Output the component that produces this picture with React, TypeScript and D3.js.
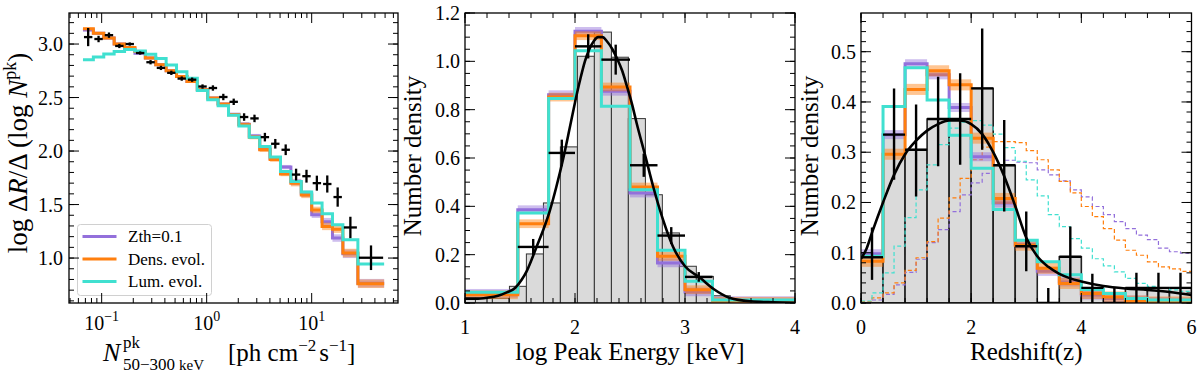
import React from 'react';
import * as d3 from 'd3';

const PURPLE = '#9370db';
const ORANGE = '#ff7f0e';
const CYAN = '#40e0d0';
const GRAY = '#dadada';
const FONT = "'Liberation Serif', 'DejaVu Serif', serif";

// ---------- panel 1 : peak flux distribution (log10 of bin edges) ----------
const fluxEdgesLog = [-1.178, -1.079, -0.98, -0.881, -0.782, -0.683, -0.584, -0.485, -0.386, -0.287, -0.188, -0.089, 0.01, 0.109,
  0.208, 0.307, 0.406, 0.505, 0.604, 0.703, 0.802, 0.901, 1.0, 1.099, 1.198, 1.297, 1.44, 1.69];
const fluxObs = [3.065, 3.047, 3.083, 2.982, 3.0, 2.916, 2.83, 2.777, 2.731, 2.677, 2.667, 2.603, 2.589, 2.505, 2.46, 2.318, 2.305,
  2.13, 2.068, 2.012, 1.78, 1.765, 1.7, 1.692, 1.57, 1.286, 1.003];
const fluxObsErr = [0.085, 0.03, 0.025, 0.02, 0.015, 0.015, 0.02, 0.02, 0.02, 0.02, 0.02, 0.02, 0.025, 0.03, 0.03, 0.035, 0.035,
  0.04, 0.045, 0.05, 0.055, 0.06, 0.07, 0.08, 0.09, 0.1, 0.115];
const fluxZth = [3.13, 3.1, 3.056, 3.0, 2.955, 2.915, 2.87, 2.807, 2.75, 2.697, 2.65, 2.573, 2.495, 2.44, 2.345, 2.25, 2.14, 2.02,
  1.93, 1.85, 1.71, 1.6, 1.405, 1.34, 1.187, 1.04, 0.765];
const fluxDens = [3.143, 3.1, 3.056, 3.0, 2.968, 2.93, 2.87, 2.807, 2.75, 2.697, 2.65, 2.573, 2.495, 2.44, 2.34, 2.246, 2.13, 2.012,
  1.92, 1.785, 1.7, 1.59, 1.45, 1.296, 1.27, 1.047, 0.76];
const fluxLum = [2.853, 2.878, 2.906, 2.93, 2.95, 2.935, 2.905, 2.865, 2.805, 2.74, 2.68, 2.565, 2.48, 2.423, 2.335, 2.235, 2.13,
  2.043, 1.944, 1.81, 1.716, 1.617, 1.514, 1.414, 1.311, 1.17, 0.944];
const fluxBand = [0.01, 0.01, 0.01, 0.01, 0.01, 0.01, 0.01, 0.01, 0.01, 0.01, 0.01, 0.01, 0.01, 0.01, 0.01, 0.02, 0.02, 0.02, 0.02,
  0.02, 0.03, 0.03, 0.03, 0.035, 0.035, 0.04, 0.04];
const fluxYTicks = [1.0, 1.5, 2.0, 2.5, 3.0];
const fluxXTicks = [0.1, 1, 10];
const fluxXTickExp = ['\u22121', '0', '1'];

// ---------- panel 2 : peak energy ----------
const epHistEdges = [0.94, 1.095, 1.249, 1.404, 1.558, 1.713, 1.867, 2.022, 2.176, 2.331, 2.485, 2.64, 2.794, 2.949, 3.103, 3.258, 3.412];
const epHist = [0.02, 0.02, 0.02, 0.069, 0.203, 0.414, 0.646, 1.021, 1.121, 1.017, 0.763, 0.448, 0.29, 0.152, 0.11, 0.03];
const epEdges = [1.0, 1.48, 1.76, 2.0, 2.24, 2.5, 2.75, 3.0, 3.25, 4.0];
const epZth = [0.04, 0.386, 0.862, 1.124, 0.876, 0.455, 0.166, 0.046, 0.01];
const epDens = [0.034, 0.328, 0.852, 1.106, 0.894, 0.48, 0.193, 0.055, 0.007];
const epLum = [0.044, 0.372, 0.846, 1.044, 0.814, 0.469, 0.218, 0.09, 0.012];
const epObs = [null, 0.232, 0.621, 1.062, 1.007, 0.57, 0.279, 0.108, null];
const epObsErr = [0, 0.033, 0.055, 0.05, 0.062, 0.048, 0.035, 0.02, 0];
const epCurveX = [1.0, 1.1, 1.2, 1.3, 1.38, 1.455, 1.515, 1.56, 1.606, 1.652, 1.712, 1.77, 1.83, 1.894, 1.95, 2.0, 2.05, 2.09,
  2.13, 2.17, 2.21, 2.25, 2.29, 2.34, 2.38, 2.43, 2.47, 2.52, 2.56, 2.64, 2.71, 2.8, 2.89, 3.0, 3.14, 3.26, 3.41, 3.6, 3.8, 4.0];
const epCurveY = [0.018, 0.018, 0.022, 0.03, 0.044, 0.062, 0.096, 0.131, 0.18, 0.234, 0.303, 0.38, 0.48, 0.6, 0.72, 0.83, 0.93,
  1.0, 1.05, 1.083, 1.1, 1.1, 1.083, 1.05, 1.014, 0.96, 0.9, 0.82, 0.745, 0.607, 0.483, 0.345, 0.234, 0.152, 0.103, 0.058, 0.021,
  0.007, 0.003, 0.001];
const epYTicks = [0, 0.2, 0.4, 0.6, 0.8, 1.0, 1.2];
const epXTicks = [1, 2, 3, 4];

// ---------- panel 3 : redshift ----------
const zEdges = [0, 0.4, 0.8, 1.2, 1.6, 2.0, 2.4, 2.8, 3.2, 3.6, 4.0, 4.4, 4.8, 5.2, 5.6, 6.0];
const zObs = [0.091, 0.335, 0.305, 0.366, 0.366, 0.427, 0.274, 0.113, 0, 0.092, 0.03, 0, 0.03, 0.03, 0.03];
const zObsLo = [0.046, 0.245, 0.212, 0.272, 0.275, 0.305, 0.182, 0.063, 0, 0.04, 0, 0, 0, 0, 0];
const zObsHi = [0.15, 0.427, 0.395, 0.45, 0.457, 0.546, 0.364, 0.182, 0.03, 0.152, 0.058, 0.03, 0.06, 0.06, 0.06];
const zZth = [0.098, 0.335, 0.476, 0.454, 0.389, 0.291, 0.199, 0.117, 0.063, 0.042, 0.016, 0.009, 0.006, 0.003, 0.002];
const zDens = [0.083, 0.296, 0.425, 0.462, 0.434, 0.328, 0.208, 0.115, 0.069, 0.039, 0.019, 0.012, 0.004, 0.002, 0.002];
const zLum = [0.093, 0.391, 0.468, 0.404, 0.334, 0.268, 0.186, 0.125, 0.082, 0.056, 0.027, 0.019, 0.009, 0.006, 0.006];
const zFineEdges = [0, 0.2, 0.4, 0.6, 0.8, 1.0, 1.2, 1.4, 1.6, 1.8, 2.0, 2.2, 2.4, 2.6, 2.8, 3.0, 3.2, 3.4, 3.6, 3.8, 4.0, 4.2,
  4.4, 4.6, 4.8, 5.0, 5.2, 5.4, 5.6, 5.8, 6.0];
const zLumIntr = [0.004, 0.02, 0.06, 0.113, 0.17, 0.225, 0.275, 0.315, 0.348, 0.36, 0.363, 0.354, 0.336, 0.309, 0.282, 0.245,
  0.213, 0.176, 0.152, 0.128, 0.109, 0.088, 0.074, 0.062, 0.049, 0.039, 0.033, 0.029, 0.026, 0.023];
const zDensIntr = [0.003, 0.01, 0.02, 0.04, 0.065, 0.09, 0.122, 0.169, 0.209, 0.248, 0.285, 0.31, 0.321, 0.321, 0.319, 0.303,
  0.285, 0.265, 0.242, 0.219, 0.192, 0.172, 0.148, 0.125, 0.105, 0.095, 0.082, 0.072, 0.068, 0.063];
const zZthIntr = [0.002, 0.006, 0.017, 0.036, 0.061, 0.087, 0.12, 0.146, 0.182, 0.215, 0.239, 0.258, 0.275, 0.284, 0.28, 0.279,
  0.265, 0.255, 0.243, 0.225, 0.211, 0.192, 0.176, 0.162, 0.148, 0.135, 0.126, 0.109, 0.102, 0.099];
const zCurveX = [0, 0.1, 0.2, 0.4, 0.6, 0.8, 1.0, 1.2, 1.4, 1.6, 1.8, 2.0, 2.2, 2.4, 2.6, 2.8, 3.0, 3.2, 3.4, 3.6, 3.8, 4.0, 4.4,
  4.8, 5.2, 5.6, 6.0];
const zCurveY = [0.088, 0.108, 0.14, 0.2, 0.255, 0.296, 0.323, 0.343, 0.356, 0.363, 0.363, 0.356, 0.336, 0.3, 0.252, 0.193, 0.13,
  0.093, 0.072, 0.058, 0.049, 0.043, 0.034, 0.029, 0.026, 0.022, 0.016];
const zYTicks = [0, 0.1, 0.2, 0.3, 0.4, 0.5];
const zXTicks = [0, 2, 4, 6];

// legend
const legendLabels = ['Zth=0.1', 'Dens. evol.', 'Lum. evol.'];
const legendColors = [PURPLE, ORANGE, CYAN];

// plot frames
const F1 = { l: 69, r: 398, t: 13, b: 303 };
const F2 = { l: 465, r: 795, t: 13, b: 303 };
const F3 = { l: 861, r: 1191.5, t: 13, b: 303 };

type Sc = (v: number) => number;

const stepD = (edges: number[], vals: number[], x: Sc, y: Sc) => {
  let d = `M${x(edges[0])},${y(vals[0])}`;
  vals.forEach((v, i) => {
    if (i > 0) d += `V${y(v)}`;
    d += `H${x(edges[i + 1])}`;
  });
  return d;
};

const Bands = ({ edges, vals, err, x, y, color }: any) => (
  <g fill={color} opacity={0.45}>
    {vals.map((v: number, i: number) => {
      const e = Array.isArray(err) ? err[i] : err;
      return <rect key={i} x={x(edges[i])} width={x(edges[i + 1]) - x(edges[i])} y={y(v + e)} height={y(v - e) - y(v + e)} />;
    })}
  </g>
);

const Step = ({ edges, vals, x, y, color, width = 3, dash }: any) => (
  <path d={stepD(edges, vals, x, y)} fill="none" stroke={color} strokeWidth={width} strokeDasharray={dash} />
);

const Frame = ({ f, xMaj, xMin, yMaj, yMin, x, y }: any) => {
  const lines: any[] = [];
  const add = (x1: number, y1: number, x2: number, y2: number) => lines.push(<line key={lines.length} x1={x1} y1={y1} x2={x2} y2={y2} />);
  xMaj.forEach((v: number) => { const p = x(v); add(p, f.b, p, f.b - 10); add(p, f.t, p, f.t + 10); });
  xMin.forEach((v: number) => { const p = x(v); add(p, f.b, p, f.b - 5); add(p, f.t, p, f.t + 5); });
  yMaj.forEach((v: number) => { const p = y(v); add(f.l, p, f.l + 10, p); add(f.r, p, f.r - 10, p); });
  yMin.forEach((v: number) => { const p = y(v); add(f.l, p, f.l + 5, p); add(f.r, p, f.r - 5, p); });
  return (
    <g stroke="#000">
      <g strokeWidth={1}>{lines}</g>
      <rect x={f.l} y={f.t} width={f.r - f.l} height={f.b - f.t} fill="none" strokeWidth={1.3} />
    </g>
  );
};

const range = (a: number, b: number, s: number) => d3.range(a, b + s / 2, s).map(v => +v.toFixed(4));

export default function App() {
  // panel 1 scales
  const x1 = d3.scaleLog().domain([10 ** -1.311, 10 ** 1.822]).range([F1.l, F1.r]);
  const fx = (e: number) => x1(10 ** e);
  const y1 = d3.scaleLinear().domain([0.58, 3.29]).range([F1.b, F1.t]);
  const x1Minor: number[] = [];
  [-2, -1, 0, 1].forEach(k => d3.range(2, 10).forEach(m => {
    const v = m * 10 ** k;
    if (v > x1.domain()[0] && v < x1.domain()[1]) x1Minor.push(v);
  }));

  // panel 2 scales
  const x2 = d3.scaleLinear().domain([1, 4]).range([F2.l, F2.r]);
  const y2 = d3.scaleLinear().domain([0, 1.2]).range([F2.b, F2.t]);

  // panel 3 scales
  const x3 = d3.scaleLinear().domain([0, 6]).range([F3.l, F3.r]);
  const y3 = d3.scaleLinear().domain([0, 0.577]).range([F3.b, F3.t]);

  const curve2 = d3.line<number>().x((_, i) => x2(epCurveX[i])).y(v => y2(v)).curve(d3.curveMonotoneX)(epCurveY);
  const curve3 = d3.line<number>().x((_, i) => x3(zCurveX[i])).y(v => y3(v)).curve(d3.curveMonotoneX)(zCurveY);

  const tickFont = 20;
  const labelFont = 25;

  return (
    <svg width={1200} height={379} style={{ position: 'absolute', left: 0, top: 0, background: '#fff' }} fontFamily={FONT}>
      <defs>
        {[F1, F2, F3].map((f, i) => (
          <clipPath key={i} id={`clip${i + 1}`}>
            <rect x={f.l} y={f.t} width={f.r - f.l} height={f.b - f.t} />
          </clipPath>
        ))}
      </defs>

      {/* ===== panel 1 ===== */}
      <g clipPath="url(#clip1)">
        <Bands edges={fluxEdgesLog} vals={fluxZth} err={fluxBand} x={fx} y={y1} color={PURPLE} />
        <Step edges={fluxEdgesLog} vals={fluxZth} x={fx} y={y1} color={PURPLE} />
        <Bands edges={fluxEdgesLog} vals={fluxDens} err={fluxBand} x={fx} y={y1} color={ORANGE} />
        <Step edges={fluxEdgesLog} vals={fluxDens} x={fx} y={y1} color={ORANGE} />
        <Step edges={fluxEdgesLog} vals={fluxLum} x={fx} y={y1} color={CYAN} />
        <g stroke="#000" strokeWidth={2.3}>
          {fluxObs.map((v, i) => {
            const xa = fx(fluxEdgesLog[i]), xb = fx(fluxEdgesLog[i + 1]);
            const xc = fx((fluxEdgesLog[i] + fluxEdgesLog[i + 1]) / 2);
            return (
              <g key={i}>
                <line x1={xa + 1} x2={xb - 1} y1={y1(v)} y2={y1(v)} />
                <line x1={xc} x2={xc} y1={y1(v - fluxObsErr[i])} y2={y1(v + fluxObsErr[i])} />
              </g>
            );
          })}
        </g>
      </g>
      {/* legend */}
      <g>
        <rect x={77.5} y={224.5} width={134} height={71} rx={3} fill="#fff" fillOpacity={0.8} stroke="#d0d0d0" />
        {legendLabels.map((t, i) => (
          <g key={t}>
            <line x1={82.5} x2={116.5} y1={236.5 + i * 22.5} y2={236.5 + i * 22.5} stroke={legendColors[i]} strokeWidth={3} />
            <text x={128} y={242 + i * 22.5} fontSize={17}>{t}</text>
          </g>
        ))}
      </g>
      <Frame f={F1} x={x1} y={y1} xMaj={fluxXTicks} xMin={x1Minor} yMaj={fluxYTicks} yMin={range(0.6, 3.2, 0.1)} />
      {fluxYTicks.map(v => (
        <text key={v} x={F1.l - 6} y={y1(v) + 7} textAnchor="end" fontSize={tickFont}>{v.toFixed(1)}</text>
      ))}
      {fluxXTicks.map((v, i) => (
        <text key={v} x={x1(v)} y={330} textAnchor="middle" fontSize={tickFont}>
          10<tspan fontSize={14} dy={-9}>{fluxXTickExp[i]}</tspan>
        </text>
      ))}
      <text x={103} y={361} fontSize={labelFont + 1} fontStyle="italic">N</text>
      <text x={123} y={348} fontSize={17}>pk</text>
      <text x={123} y={370} fontSize={17}>50{'\u2212'}300<tspan dx={4} fontSize={15}>keV</tspan></text>
      <text x={228} y={361} fontSize={labelFont}>
        [ph cm<tspan fontSize={17} dy={-10}>{'\u2212'}2</tspan><tspan dy={10} dx={3}>s</tspan>
        <tspan fontSize={17} dy={-10}>{'\u2212'}1</tspan><tspan dy={10}>]</tspan>
      </text>
      <text transform="translate(27,153) rotate(-90)" textAnchor="middle" fontSize={27}>
        log Δ<tspan fontStyle="italic">R</tspan>/Δ (log <tspan fontStyle="italic">N</tspan>
        <tspan fontSize={18} dy={-11}>pk</tspan><tspan dy={11}>)</tspan>
      </text>

      {/* ===== panel 2 ===== */}
      <g clipPath="url(#clip2)">
        <g fill={GRAY} stroke="#333" strokeWidth={1}>
          {epHist.map((v, i) => (
            <rect key={i} x={x2(epHistEdges[i])} width={x2(epHistEdges[i + 1]) - x2(epHistEdges[i])} y={y2(v)} height={y2(0) - y2(v)} />
          ))}
        </g>
        <Bands edges={epEdges} vals={epZth} err={0.018} x={x2} y={y2} color={PURPLE} />
        <Step edges={epEdges} vals={epZth} x={x2} y={y2} color={PURPLE} />
        <Bands edges={epEdges} vals={epDens} err={0.018} x={x2} y={y2} color={ORANGE} />
        <Step edges={epEdges} vals={epDens} x={x2} y={y2} color={ORANGE} />
        <Step edges={epEdges} vals={epLum} x={x2} y={y2} color={CYAN} />
        <path d={curve2 || ''} fill="none" stroke="#000" strokeWidth={2.6} />
        <g stroke="#000" strokeWidth={2.4}>
          {epObs.map((v, i) => {
            if (v == null) return null;
            const xc = x2((epEdges[i] + epEdges[i + 1]) / 2);
            return (
              <g key={i}>
                <line x1={x2(epEdges[i])} x2={x2(epEdges[i + 1])} y1={y2(v)} y2={y2(v)} />
                <line x1={xc} x2={xc} y1={y2(v - epObsErr[i])} y2={y2(v + epObsErr[i])} />
              </g>
            );
          })}
        </g>
      </g>
      <Frame f={F2} x={x2} y={y2} xMaj={epXTicks} xMin={range(1, 4, 0.2)} yMaj={epYTicks} yMin={range(0, 1.2, 0.05)} />
      {epYTicks.map(v => (
        <text key={v} x={F2.l - 5} y={y2(v) + 7} textAnchor="end" fontSize={tickFont}>{v.toFixed(1)}</text>
      ))}
      {epXTicks.map(v => (
        <text key={v} x={x2(v)} y={334} textAnchor="middle" fontSize={tickFont}>{v}</text>
      ))}
      <text x={(F2.l + F2.r) / 2} y={360} textAnchor="middle" fontSize={labelFont}>log Peak Energy [keV]</text>
      <text transform="translate(421,156) rotate(-90)" textAnchor="middle" fontSize={labelFont}>Number density</text>

      {/* ===== panel 3 ===== */}
      <g clipPath="url(#clip3)">
        <g fill={GRAY} stroke="#222" strokeWidth={1.6}>
          {zObs.map((v, i) => (
            <rect key={i} x={x3(zEdges[i])} width={x3(zEdges[i + 1]) - x3(zEdges[i])} y={y3(v)} height={y3(0) - y3(v)} />
          ))}
        </g>
        <Step edges={zFineEdges} vals={zZthIntr} x={x3} y={y3} color={PURPLE} width={1.2} dash="4,2.5" />
        <Step edges={zFineEdges} vals={zDensIntr} x={x3} y={y3} color={ORANGE} width={1.2} dash="4,2.5" />
        <Step edges={zFineEdges} vals={zLumIntr} x={x3} y={y3} color={CYAN} width={1.2} dash="4,2.5" />
        <Bands edges={zEdges} vals={zZth} err={0.009} x={x3} y={y3} color={PURPLE} />
        <Step edges={zEdges} vals={zZth} x={x3} y={y3} color={PURPLE} />
        <Bands edges={zEdges} vals={zDens} err={0.011} x={x3} y={y3} color={ORANGE} />
        <Step edges={zEdges} vals={zDens} x={x3} y={y3} color={ORANGE} />
        <Step edges={zEdges} vals={zLum} x={x3} y={y3} color={CYAN} />
        <path d={curve3 || ''} fill="none" stroke="#000" strokeWidth={2.6} />
        <g stroke="#000" strokeWidth={2.4}>
          {zObs.map((v, i) => {
            const xc = x3((zEdges[i] + zEdges[i + 1]) / 2);
            return (
              <g key={i}>
                <line x1={x3(zEdges[i])} x2={x3(zEdges[i + 1])} y1={y3(v)} y2={y3(v)} />
                <line x1={xc} x2={xc} y1={y3(zObsLo[i])} y2={y3(zObsHi[i])} />
              </g>
            );
          })}
        </g>
      </g>
      <Frame f={F3} x={x3} y={y3} xMaj={zXTicks} xMin={range(0, 6, 0.4)} yMaj={zYTicks} yMin={range(0, 0.56, 0.02)} />
      {zYTicks.map(v => (
        <text key={v} x={F3.l - 5} y={y3(v) + 7} textAnchor="end" fontSize={tickFont}>{v.toFixed(1)}</text>
      ))}
      {zXTicks.map(v => (
        <text key={v} x={x3(v)} y={334} textAnchor="middle" fontSize={tickFont}>{v}</text>
      ))}
      <text x={(F3.l + F3.r) / 2} y={360} textAnchor="middle" fontSize={labelFont}>Redshift(z)</text>
      <text transform="translate(818,156) rotate(-90)" textAnchor="middle" fontSize={labelFont}>Number density</text>
    </svg>
  );
}
